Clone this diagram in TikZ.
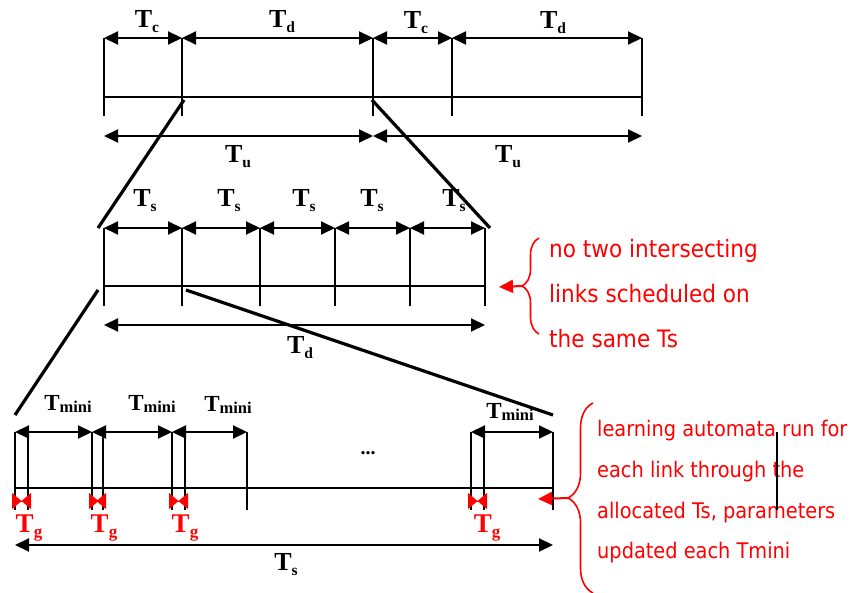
\documentclass[tikz,border=0pt]{standalone}
\usepackage{fontspec}
\setmainfont{Liberation Serif}
\newfontfamily\notefont[FakeStretch=0.9]{DejaVu Sans}
\usetikzlibrary{arrows.meta,decorations.pathreplacing}

% time label: bold T with a lowered subscript
\newcommand\tlab[1]{\textbf{T}\raisebox{-5pt}{\fontsize{15.5}{15.5}\selectfont\bfseries #1}}
\newcommand\tmini{\fontsize{23}{23}\selectfont\textbf{T}\raisebox{-2pt}{\fontsize{16.5}{16.5}\selectfont\bfseries mini}}
\newcommand\tgap{\fontsize{27}{27}\selectfont\textbf{T}\raisebox{-5pt}{\fontsize{17}{17}\selectfont\bfseries g}}

\tikzset{
  span/.style={line width=2pt, {Triangle[length=14pt,width=13pt]}-{Triangle[length=14pt,width=13pt]}},
  tick/.style={line width=1.7pt},
  base/.style={line width=1.1pt},
  zoomline/.style={line width=3.2pt},
  lab/.style={font=\fontsize{26}{26}\selectfont, inner sep=0pt, anchor=base},
  gap/.style={red, line width=1pt, {Triangle[reversed,length=9.5pt,width=16pt]}-{Triangle[reversed,length=9.5pt,width=16pt]}},
  pointer/.style={red, line width=2pt, -{Triangle[length=14pt,width=13pt]}},
  curly/.style={red, line width=1.6pt, decorate},
  note/.style={red, anchor=base west, inner sep=0pt}
}

\begin{document}
\begin{tikzpicture}[x=1pt,y=-1pt]
\useasboundingbox (0,0) rectangle (856,593);

% frame: control and data periods
\foreach \n/\x in {0/104,1/182,2/373,3/452,4/642}
  \draw[tick] (\x,38) coordinate (u\n) -- (\x,116) coordinate (ul\n);
\coordinate (ua) at (104,97);
\coordinate (ub) at (642,97);
\draw[base] (ua) -- (ub);
\draw[span] (u0) -- (u1);
\draw[span] (u1) -- (u2);
\draw[span] (u2) -- (u3);
\draw[span] (u3) -- (u4);
\node[lab] (lc1) at (147,28) {\tlab{c}};
\node[lab] (ld1) at (282,28) {\tlab{d}};
\node[lab] (lc2) at (416,29) {\tlab{c}};
\node[lab] (ld2) at (553,29) {\tlab{d}};

\coordinate (tu0) at (104,136);
\coordinate (tu1) at (373,136);
\coordinate (tu2) at (642,136);
\draw[span] (tu0) -- (tu1);
\draw[span] (tu1) -- (tu2);
\node[lab] (lu1) at (238,163) {\tlab{u}};
\node[lab] (lu2) at (508,163) {\tlab{u}};

% data period split into slots
\foreach \n/\x in {0/104,1/182,2/260,3/335,4/410,5/485}
  \draw[tick] (\x,228) coordinate (s\n) -- (\x,306) coordinate (sl\n);
\coordinate (sa) at (104,286);
\coordinate (sb) at (485,286);
\draw[base] (sa) -- (sb);
\foreach \a/\b in {0/1,1/2,2/3,3/4,4/5}
  \draw[span] (s\a) -- (s\b);
\foreach \k/\x in {1/145,2/229,3/304,4/372,5/454}
  \node[lab] (ls\k) at (\x,207) {\tlab{s}};
\coordinate (td0) at (104,325);
\coordinate (td1) at (485,325);
\draw[span] (td0) -- (td1);
\node[lab] (lds) at (300,353) {\tlab{d}};

% zoom lines between the rows
\coordinate (z1a) at (184,100);
\coordinate (z1b) at (98,228);
\coordinate (z2a) at (372,100);
\coordinate (z2b) at (490,228);
\draw[zoomline] (z1a) -- (z1b);
\draw[zoomline] (z2a) -- (z2b);
\coordinate (z3a) at (98,290);
\coordinate (z3b) at (15,415);
\coordinate (z4a) at (186,290);
\coordinate (z4b) at (553,415);
\draw[zoomline] (z3a) -- (z3b);
\draw[zoomline] (z4a) -- (z4b);

% one slot split into mini periods with guard times
\foreach \n/\x in {0/15,1/28,2/92,3/103,4/172,5/185,6/247,7/471,8/484,9/553}
  \draw[tick] (\x,432) coordinate (m\n) -- (\x,510) coordinate (ml\n);
\coordinate (ma) at (15,488);
\coordinate (mb) at (553,488);
\draw[base] (ma) -- (mb);
\draw[span] (m0) -- (m2);
\draw[span] (m2) -- (m4);
\draw[span] (m4) -- (m6);
\draw[span] (m7) -- (m9);
\node[lab] (lm1) at (68,410) {\tmini};
\node[lab] (lm2) at (152,410) {\tmini};
\node[lab] (lm3) at (228,411) {\tmini};
\node[lab] (lm4) at (510,418) {\tmini};
\node[lab, font=\fontsize{20}{20}\selectfont\bfseries] (dots) at (368,454) {...};

\foreach \a/\b in {0/1,2/3,4/5,7/8} {
  \coordinate (g\a) at ([xshift=-3pt,yshift=-13pt]m\a |- ma);
  \coordinate (g\b) at ([xshift=3pt,yshift=-13pt]m\b |- ma);
  \draw[gap] (g\a) -- (g\b);
}
\foreach \k/\x in {1/29,2/104,3/185,4/487}
  \node[lab, red] (lg\k) at (\x,532) {\tgap};

\coordinate (ts0) at (15,545);
\coordinate (ts1) at (553,545);
\draw[span] (ts0) -- (ts1);
\node[lab] (lts) at (286,570) {\tlab{s}};

% notes
\draw[curly, decoration={brace, amplitude=17pt}] (539,334) -- coordinate[pos=0.5] (c1) (539,238);
\coordinate (p1) at (499,287);
\draw[pointer] ([xshift=-17pt]c1) -- (p1);
\foreach \k/\y/\t in {1/258/no two intersecting, 2/303/links scheduled on, 3/348/the same Ts}
  \node[note, font=\notefont\fontsize{24}{24}\selectfont] (n\k) at (549,\y) {\t};

\draw[curly, decoration={brace, amplitude=25pt}] (593,593) -- coordinate[pos=0.5] (c2) (593,403);
\coordinate (p2) at (538,499);
\draw[pointer] ([xshift=-25pt]c2) -- (p2);
\foreach \k/\y/\t in {1/436/learning automata run for, 2/477/each link through the, 3/518/{allocated Ts, parameters}, 4/558/updated each Tmini}
  \node[note, font=\notefont\fontsize{21.5}{21.5}\selectfont] (m\k) at (597,\y) {\t};
\coordinate (k1) at (777,432);
\coordinate (k2) at (777,510);
\draw[line width=1.4pt] (k1) -- (k2);
\end{tikzpicture}
\end{document}
